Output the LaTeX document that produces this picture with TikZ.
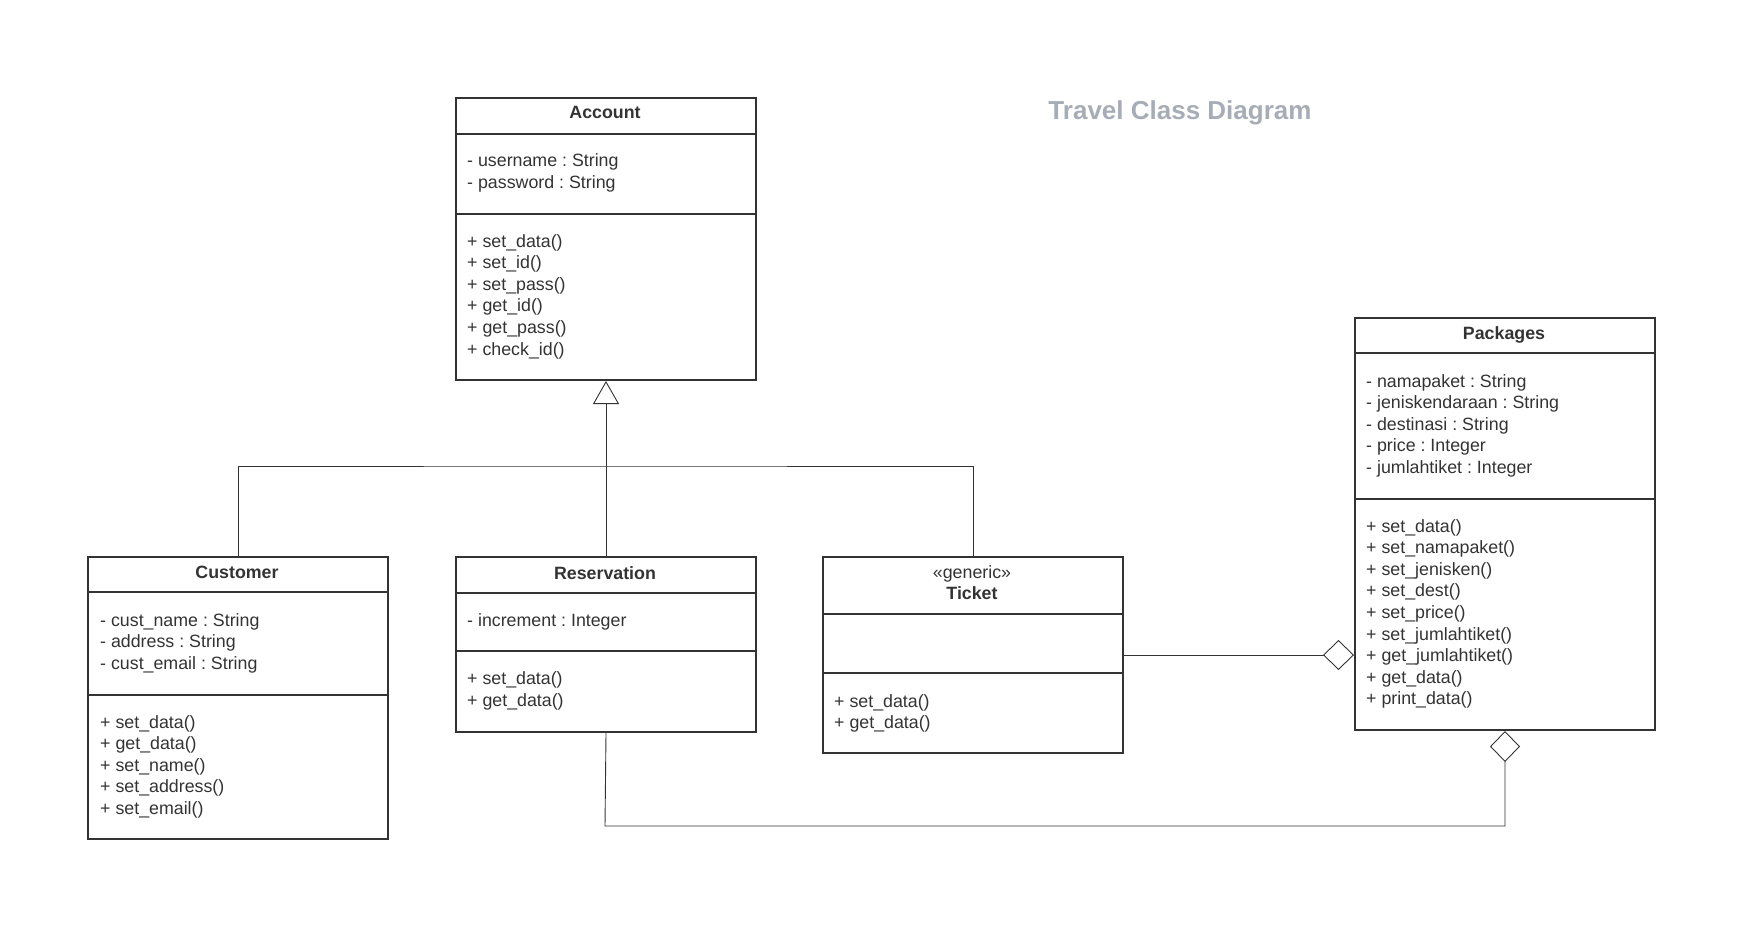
\documentclass[tikz,border=0pt]{standalone}
\usepackage{fontspec}
\setmainfont{Liberation Sans}
\frenchspacing
\usetikzlibrary{arrows.meta}
\definecolor{ink}{HTML}{333333}
\definecolor{titlegray}{HTML}{A7ADB6}
\tikzset{
  cls/.style={draw=ink, line width=2pt, anchor=north west, inner sep=0pt, minimum width=300pt},
  divider/.style={draw=ink, line width=2pt},
  clsname/.style={anchor=base, inner sep=0pt, text=ink, font=\fontsize{17.8}{21.6}\selectfont\bfseries},
  members/.style={anchor=base west, align=left, inner sep=0pt, text=ink, font=\fontsize{17.8}{21.6}\selectfont},
  link/.style={draw=ink, line width=0.9pt},
  inherit/.style={link, -{Triangle[length=23pt, width=26pt, fill=white]}},
  aggr/.style={link, -{Diamond[length=31pt, width=30pt, fill=white]}}
}
\begin{document}
\begin{tikzpicture}[x=1pt,y=-1pt]
    \useasboundingbox (0,0) rectangle (1761,936);
    %% Title
    \node[text=titlegray, font=\fontsize{26}{30}\selectfont\bfseries] (title) at (1180,113) {Travel Class Diagram};
    %% Classes
    \node[cls, minimum height=282pt] (account) at (455,97) {};
    \node[cls, minimum height=282pt] (customer) at (87,556) {};
    \node[cls, minimum height=175pt] (reservation) at (455,556) {};
    \node[cls, minimum height=196pt] (ticket) at (822,556) {};
    \node[cls, minimum height=412pt] (packages) at (1354,317) {};
    %% Compartments
    \foreach \c/\y in {account/134, account/214, customer/592, customer/695,
                       reservation/593, reservation/651, ticket/614, ticket/673,
                       packages/353, packages/499}
      \draw[divider] (\c.west |- 0,\y) -- (\c.east |- 0,\y);
    %% Names
    \node[clsname] (account-name) at (605,119) {Account};
    \node[clsname] (customer-name) at (237,578) {Customer};
    \node[clsname] (reservation-name) at (605,579) {Reservation};
    \node[members, anchor=base] (ticket-stereo) at (972,578) {«generic»};
    \node[clsname] (ticket-name) at (972,599) {Ticket};
    \node[clsname] (packages-name) at (1504,339) {Packages};
    %% Attributes (placed at the baseline of the last line)
    \node[members] (account-attr) at (467,188.6) {- username : String\\- password : String};
    \node[members] (customer-attr) at (100,669.2) {- cust\_name : String\\- address : String\\- cust\_email : String};
    \node[members] (reservation-attr) at (467,626.5) {- increment : Integer};
    \node[members] (packages-attr) at (1366,473.4) {- namapaket : String\\- jeniskendaraan : String\\- destinasi : String\\- price : Integer\\- jumlahtiket : Integer};
    %% Operations
    \node[members] (account-ops) at (467,355) {+ set\_data()\\+ set\_id()\\+ set\_pass()\\+ get\_id()\\+ get\_pass()\\+ check\_id()};
    \node[members] (customer-ops) at (100,814.4) {+ set\_data()\\+ get\_data()\\+ set\_name()\\+ set\_address()\\+ set\_email()};
    \node[members] (reservation-ops) at (467,706.1) {+ set\_data()\\+ get\_data()};
    \node[members] (ticket-ops) at (834,728.6) {+ set\_data()\\+ get\_data()};
    \node[members] (packages-ops) at (1366,704.8) {+ set\_data()\\+ set\_namapaket()\\+ set\_jenisken()\\+ set\_dest()\\+ set\_price()\\+ set\_jumlahtiket()\\+ get\_jumlahtiket()\\+ get\_data()\\+ print\_data()};
    %% Generalization
    \coordinate (join) at (605,466);
    \draw[inherit] (reservation.north) -- (account.south);
    \draw[link] (customer.north) |- (join) -| (ticket.north);
    %% Aggregation
    \draw[aggr] (ticket.east) -- (ticket.east -| packages.west);
    \coordinate (low) at (605,826);
    \draw[aggr] (reservation.south) -- (low) -| (packages.south);
\end{tikzpicture}
\end{document}
